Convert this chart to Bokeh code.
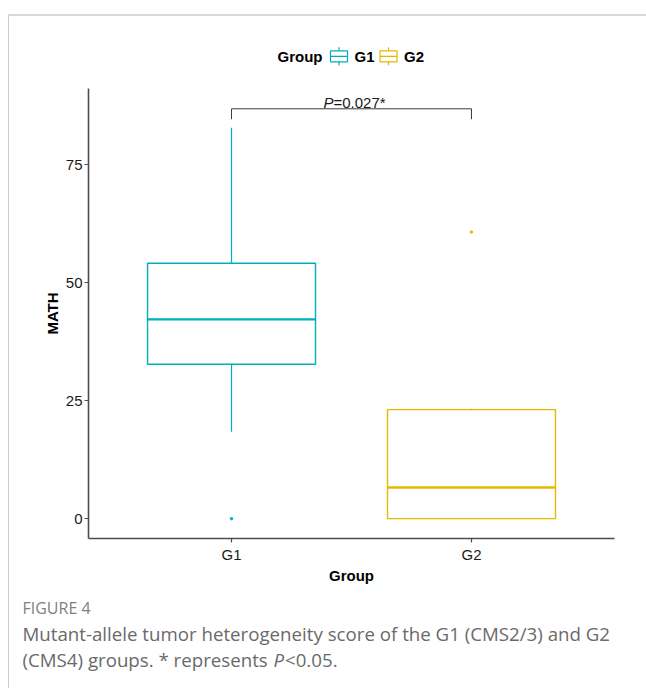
from bokeh.plotting import figure
from bokeh.models import Range1d, FixedTicker, ColumnDataSource
from bokeh.layouts import column
from bokeh.embed import file_html
from bokeh.resources import INLINE
from bokeh.core.properties import value

# ---------------- data ----------------
groups = ["G1", "G2"]
group_colors = ["#00AFBB", "#E7B800"]
lower_whisker = [18.4, 0.0]
q1 = [32.7, 0.0]
median = [42.2, 6.6]
q3 = [54.1, 23.1]
upper_whisker = [82.8, 23.3]
outlier_groups = ["G1", "G2"]
outlier_values = [0.0, 60.7]
y_ticks = [0, 25, 50, 75]
p_value_text = "=0.027*"
bracket_height = 86.8
bracket_tip = 84.6
legend_title = "Group"
caption_head = "FIGURE 4"
caption_line1 = "Mutant-allele tumor heterogeneity score of the G1 (CMS2/3) and G2"
caption_line2a = "(CMS4) groups. * represents"
caption_line2b = "P"
caption_line2c = "<0.05."

FONT = "Liberation Sans"
CAP_FONT = "Open Sans"
W = 637
BL, BR = 79, 32
BOX_W = 0.7

xpos = [i + 1 for i in range(len(groups))]
half = BOX_W / 2

src = ColumnDataSource(dict(
    x=xpos, lw=lower_whisker, q1=q1, med=median, q3=q3, uw=upper_whisker,
    color=group_colors,
    left=[x - half for x in xpos], right=[x + half for x in xpos]))

# ---------------- main plot ----------------
p = figure(width=W, height=504, x_range=Range1d(0.404, 2.596),
           y_range=Range1d(-4.2, 91.1), output_backend="svg",
           toolbar_location=None, min_border_left=BL, min_border_right=BR,
           min_border_top=0, min_border_bottom=54)
p.outline_line_color = None
p.grid.visible = False
p.background_fill_color = "white"

p.segment(x0="x", y0="q3", x1="x", y1="uw", source=src, line_color="color", line_width=1.2)
p.segment(x0="x", y0="q1", x1="x", y1="lw", source=src, line_color="color", line_width=1.2)
p.quad(left="left", right="right", bottom="q1", top="q3", source=src,
       fill_color="white", line_color="color", line_width=1.4)
p.segment(x0="left", y0="med", x1="right", y1="med", source=src,
          line_color="color", line_width=2.4)

ox = [xpos[groups.index(g)] for g in outlier_groups]
oc = [group_colors[groups.index(g)] for g in outlier_groups]
p.scatter(ox, outlier_values, size=2.5, color=oc)

# significance bracket
xa, xb = xpos[0], xpos[1]
p.segment(x0=[xa, xa, xb], y0=[bracket_height] * 3,
          x1=[xb, xa, xb], y1=[bracket_height, bracket_tip, bracket_tip],
          line_color="#3a3a3a", line_width=1)
mid = (xa + xb) / 2
label_y = bracket_height + 1.4
p.text(x=[mid], y=[label_y], text=["P"], text_font=value(FONT),
       text_font_style="italic", text_font_size="15px", text_align="right",
       text_baseline="alphabetic", x_offset=-18, text_color="#1a1a1a")
p.text(x=[mid], y=[label_y], text=[p_value_text], text_font=value(FONT),
       text_font_size="15px", text_align="left",
       text_baseline="alphabetic", x_offset=-18, text_color="#1a1a1a")

p.xaxis.ticker = FixedTicker(ticks=xpos)
p.xaxis.major_label_overrides = {x: g for x, g in zip(xpos, groups)}
p.yaxis.ticker = FixedTicker(ticks=y_ticks)
for ax in (p.xaxis[0], p.yaxis[0]):
    ax.axis_line_color = "#4d4d4d"
    ax.axis_line_width = 1.6
    ax.major_tick_line_color = "#4d4d4d"
    ax.major_tick_line_width = 1.2
    ax.major_tick_out = 4
    ax.major_tick_in = 0
    ax.minor_tick_line_color = None
    ax.major_label_text_font = FONT
    ax.major_label_text_font_size = "15px"
    ax.major_label_text_color = "#1a1a1a"
    ax.axis_label_text_font = FONT
    ax.axis_label_text_font_style = "bold"
    ax.axis_label_text_font_size = "15px"
    ax.axis_label_text_color = "black"
p.xaxis.axis_label = "Group"
p.yaxis.axis_label = "MATH"
p.xaxis.major_label_standoff = 3
p.xaxis.axis_label_standoff = 1
p.yaxis.major_label_standoff = 2
p.yaxis.axis_label_standoff = 2

# ---------------- legend strip (x aligned to the main frame) ----------------
lg = figure(width=W, height=72, x_range=Range1d(88, 614), y_range=Range1d(88, 16),
            output_backend="svg", toolbar_location=None, min_border_left=BL,
            min_border_right=BR, min_border_top=0, min_border_bottom=0,
            x_axis_location=None, y_axis_location=None)
lg.outline_line_color = None
lg.grid.visible = False

cy = 55.8
icon_left = [330, 379.5]
icon_w = 17
icon_h = 11
wh = 3.5
lg.text(x=[277], y=[cy], text=[legend_title], text_font=value(FONT),
        text_font_style="bold", text_font_size="15px", text_baseline="middle",
        text_color="black")
icx = [l + icon_w / 2 for l in icon_left]
lg.segment(x0=icx, y0=[cy - icon_h / 2 - wh] * 2, x1=icx, y1=[cy + icon_h / 2 + wh] * 2,
           line_color=group_colors, line_width=1.2)
lg.quad(left=icon_left, right=[l + icon_w for l in icon_left],
        top=[cy - icon_h / 2] * 2, bottom=[cy + icon_h / 2] * 2,
        fill_color="white", line_color=group_colors, line_width=1.2)
lg.segment(x0=icon_left, y0=[cy] * 2, x1=[l + icon_w for l in icon_left], y1=[cy] * 2,
           line_color=group_colors, line_width=1.2)
lg.text(x=[l + icon_w + 7 for l in icon_left], y=[cy] * 2, text=groups,
        text_font=value(FONT), text_font_style="bold", text_font_size="15px",
        text_baseline="middle", text_color="black")

# ---------------- caption strip (own frame, page-pixel coordinates) ----------------
cap = figure(width=W, height=96, x_range=Range1d(9, 646), y_range=Range1d(688, 592),
             output_backend="svg", toolbar_location=None, min_border=0,
             x_axis_location=None, y_axis_location=None)
cap.frame_align = False
cap.outline_line_color = None
cap.grid.visible = False
cx = 22
cap.text(x=[cx], y=[607], text=[caption_head], text_font=value(CAP_FONT),
         text_font_size="16px", text_baseline="middle", text_color="#7f7f7f")
cap.text(x=[cx], y=[633], text=[caption_line1], text_font=value(CAP_FONT),
         text_font_size="18.7px", text_baseline="middle", text_color="#6a6a6a")
cap.text(x=[cx], y=[659], text=[caption_line2a], text_font=value(CAP_FONT),
         text_font_size="18.7px", text_baseline="middle", text_color="#6a6a6a")
cap.text(x=[273], y=[659], text=[caption_line2b], text_font=value(CAP_FONT),
         text_font_style="italic", text_font_size="18.7px", text_baseline="middle",
         text_color="#6a6a6a")
cap.text(x=[284.5], y=[659], text=[caption_line2c], text_font=value(CAP_FONT),
         text_font_size="18.7px", text_baseline="middle", text_color="#6a6a6a")

layout = column(lg, p, cap, styles={"margin-top": "14px", "margin-left": "8px",
                                    "border-top": "2px solid #d9d9d9",
                                    "border-left": "1px solid #cccccc"})

open("out.html", "w").write(file_html(layout, INLINE))
